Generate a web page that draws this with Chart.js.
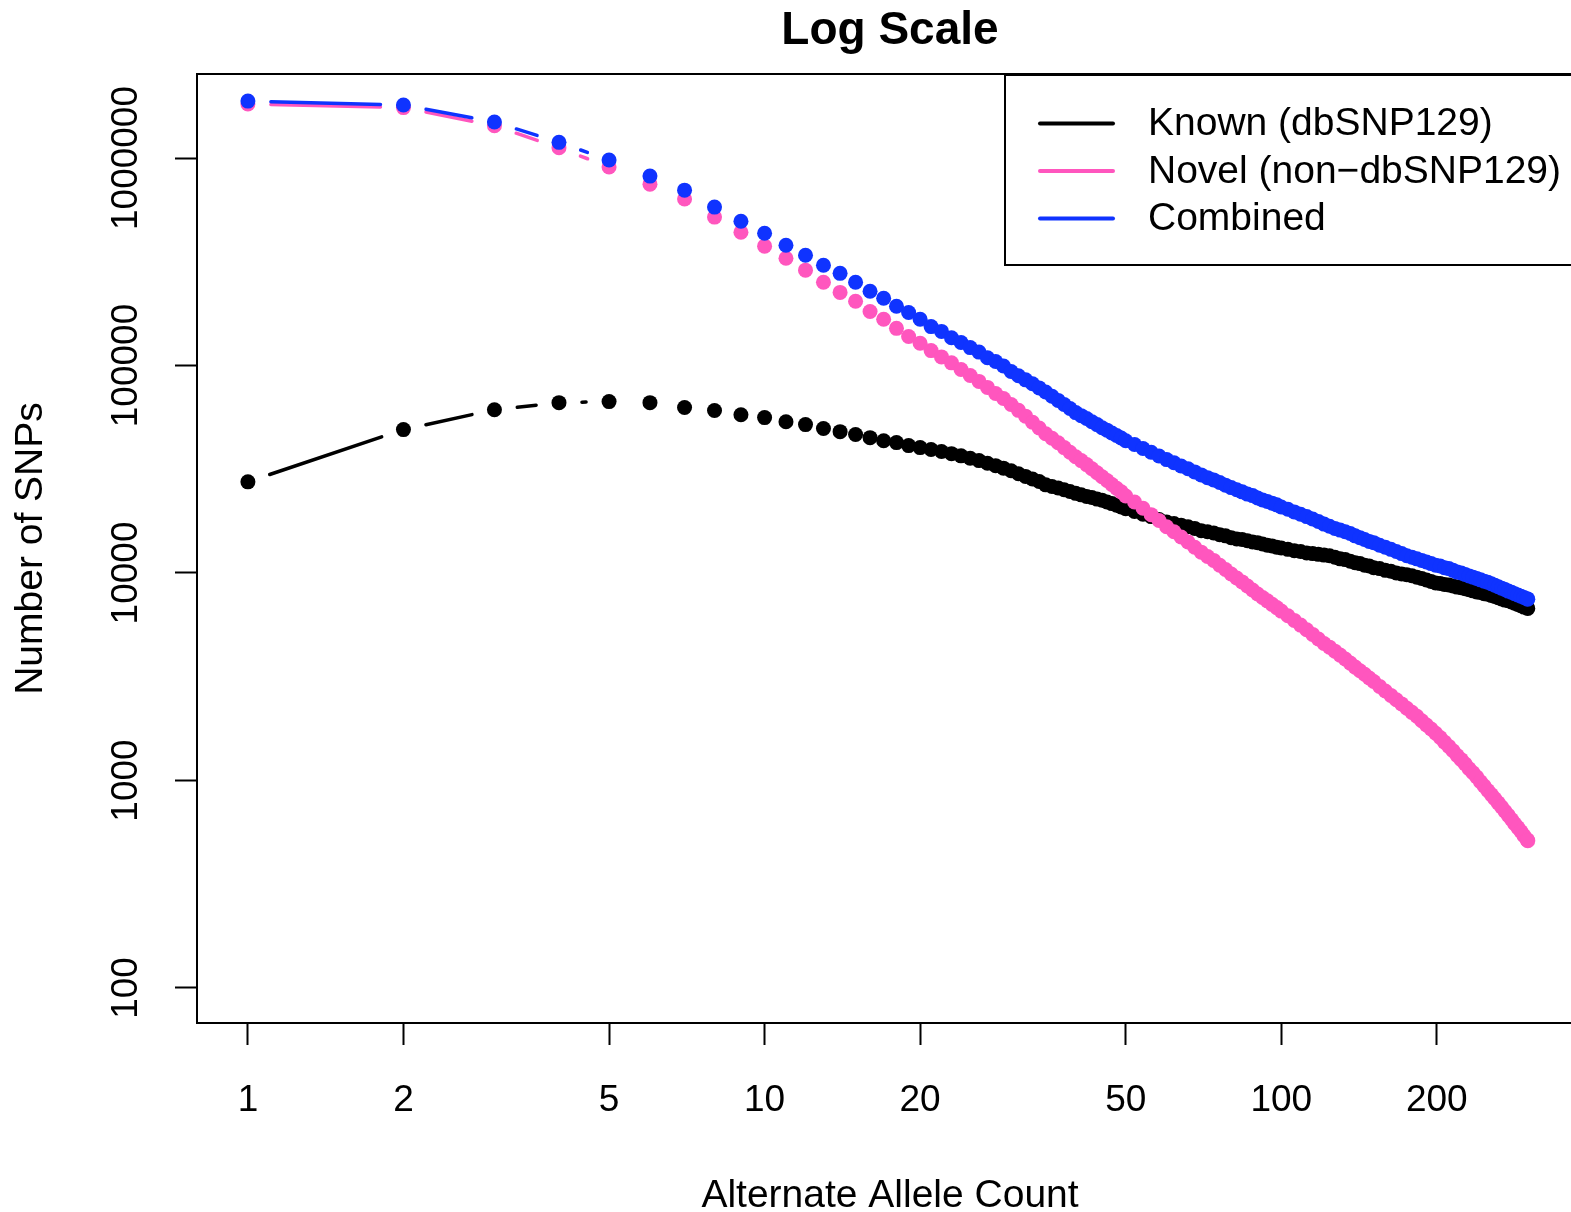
<!DOCTYPE html>
<html>
<head>
<meta charset="utf-8">
<script src="https://cdn.jsdelivr.net/npm/chart.js@4.4.1/dist/chart.umd.min.js"></script>
<style>
  html, body { margin: 0; padding: 0; background: #fff; overflow: hidden; }
  /* the plot box runs a little past the right edge of the picture, as in the original */
  #frame { width: 1571px; height: 1212px; overflow: hidden; }
  canvas { display: block; }
</style>
</head>
<body>
<div id="frame"><canvas id="snps" width="1583" height="1212"></canvas></div>
<script>
// alternate allele count (x) for each plotted point
const counts = [
  1,2,3,4,5,6,7,8,9,10,11,12,13,14,15,16,17,18,19,20,
  21,22,23,24,25,26,27,28,29,30,31,32,33,34,35,36,37,38,39,40,
  41,42,43,44,45,46,47,48,49,50,
  52,54,56,58,60,62,64,66,68,70,72,74,76,78,80,82,84,86,88,90,92,94,96,98,100,
  103,106,109,112,115,118,121,124,127,130,133,136,139,142,145,148,151,
  155,159,163,167,171,175,179,183,187,191,195,199,203,207,211,215,219,223,227,231,
  235,239,243,247,251,255,259,263,267,271,275,279,283,287,291,295,299,300
]

const known = [
  27500,49100,61200,66200,67000,66200,62700,60700,57900,56100,
  53600,51900,49700,48000,46500,44900,43400,42500,41100,40200,
  39400,38500,37600,36700,35700,34800,33800,32900,32000,31100,
  30100,29200,28400,27600,26600,26100,25700,25200,24700,24200,
  23800,23400,23100,22700,22400,22000,21600,21200,20800,20400,
  19800,19200,18700,18100,17600,17300,17000,16700,16400,16000,
  15800,15600,15300,15100,14800,14600,14500,14300,14100,14000,
  13800,13600,13500,13300,13200,
  13000,12800,12700,12500,12400,12300,12200,12100,11900,11700,11600,11400,11200,11100,10900,10800,10600,
  10500,10300,10200,10000,9900,9800,9700,9550,9400,9250,9100,8950,8900,8800,8750,8650,8550,8500,8400,8300,
  8200,8100,8050,7950,7900,7800,7700,7600,7500,7400,7350,7250,7150,7050,6950,6850,6800,6750
]

const novel = [
  1820000,1750000,1430000,1120000,905000,748000,634000,519000,439000,376000,
  329000,288000,252000,225000,204000,182000,167000,151000,138000,128000,
  118000,110000,103000,95700,89500,83800,78400,73300,69300,64900,
  60800,57000,53300,50000,46900,44600,42400,40200,38200,36300,
  34800,33300,31800,30400,29100,27900,26700,25600,24600,23500,
  22000,20500,19100,17900,16700,15800,14900,14100,13300,12600,
  12000,11500,10900,10400,9890,9460,9060,8650,8280,7920,
  7620,7340,7060,6810,6550,
  6220,5910,5610,5330,5060,4810,4570,4390,4200,4020,3850,3680,3520,3380,3250,3120,3000,
  2840,2700,2570,2450,2340,2230,2130,2040,1940,1850,1770,1690,1610,1530,1460,1390,1320,1260,1200,1140,
  1090,1040,986,940,895,855,817,780,745,711,679,649,619,593,568,542,519,513
]

const combined = [
  1880000,1800000,1490000,1190000,978000,818000,700000,580000,496000,434000,
  380000,340000,304000,278000,252000,228000,211000,193000,180000,167000,
  154000,146000,136000,129000,122000,116000,109000,104500,99500,93600,
  89300,85300,81700,78000,74500,71100,67900,64900,62100,59300,
  57300,55500,53600,51900,50100,48800,47300,46000,44700,43400,
  41600,39800,38200,36600,35200,34000,32800,31800,30700,29700,
  28800,28100,27300,26500,25800,25200,24600,24000,23600,23000,
  22500,22100,21700,21300,20800,
  20300,19700,19200,18700,18200,17700,17200,16800,16400,16100,15800,15500,15100,14800,14500,14200,14000,
  13600,13300,13000,12700,12400,12100,11900,11700,11500,11300,11100,10900,10800,10600,10500,10300,10100,10000,9840,9680,
  9550,9400,9270,9120,9020,8870,8730,8590,8450,8320,8180,8070,7940,7830,7730,7620,7520,7480
]

const seriesNames = ['Known (dbSNP129)', 'Novel (non\u2212dbSNP129)', 'Combined']
const seriesColors = ['#000000', '#FF56BE', '#0F33FF']
const xTicks = [1, 2, 5, 10, 20, 50, 100, 200]
const yTicks = [100, 1000, 10000, 100000, 1000000]

const FONT = "'Liberation Sans', Helvetica, Arial, sans-serif"
Chart.defaults.font.family = FONT
Chart.defaults.color = '#000'

// R type="b": segments between points, cut back so they stop short of each dot
const gapLines = {
  id: 'gapLines',
  beforeDatasetsDraw(chart) {
    const ctx = chart.ctx
    const a = chart.chartArea
    const gap = 23
    ctx.save()
    ctx.beginPath()
    ctx.rect(a.left, a.top, a.right - a.left, a.bottom - a.top)
    ctx.clip()
    ctx.lineWidth = 3.5
    ctx.lineCap = 'round'
    chart.data.datasets.forEach((ds, i) => {
      const pts = chart.getDatasetMeta(i).data
      ctx.strokeStyle = ds.backgroundColor
      for (let k = 1; k < pts.length; k++) {
        const p = pts[k - 1], q = pts[k]
        const dx = q.x - p.x, dy = q.y - p.y
        const d = Math.hypot(dx, dy)
        if (d <= 2 * gap) continue
        const ux = dx / d, uy = dy / d
        ctx.beginPath()
        ctx.moveTo(p.x + ux * gap, p.y + uy * gap)
        ctx.lineTo(q.x - ux * gap, q.y - uy * gap)
        ctx.stroke()
      }
    })
    ctx.restore()
  }
}

// plot frame and the boxed legend in the top right corner
const frameLegend = {
  id: 'frameLegend',
  afterDatasetsDraw(chart) {
    const ctx = chart.ctx
    const a = chart.chartArea
    ctx.save()
    ctx.strokeStyle = '#000'
    ctx.lineWidth = 2
    ctx.strokeRect(a.left, a.top, a.right - a.left, a.bottom - a.top)
    ctx.strokeRect(1005, 75, 700, 190)
    ctx.font = '39px ' + FONT
    ctx.textBaseline = 'middle'
    ctx.textAlign = 'left'
    seriesNames.forEach((name, i) => {
      const y = 123.5 + i * 47.5
      ctx.strokeStyle = seriesColors[i]
      ctx.lineWidth = 4
      ctx.lineCap = 'round'
      ctx.beginPath()
      ctx.moveTo(1040, y)
      ctx.lineTo(1113, y)
      ctx.stroke()
      ctx.fillStyle = '#000'
      ctx.fillText(name, 1148, y + 1)
    })
    ctx.restore()
  }
}

const series = [known, novel, combined]

new Chart(document.getElementById('snps'), {
  type: 'scatter',
  data: {
    datasets: series.map((vals, i) => ({
      label: seriesNames[i],
      data: counts.map((c, k) => ({ x: c, y: vals[k] })),
      backgroundColor: seriesColors[i],
      borderColor: seriesColors[i],
      pointRadius: 7.5,
      pointHoverRadius: 7.5,
      pointBorderWidth: 0,
      order: 3 - i,
    })),
  },
  options: {
    responsive: false,
    animation: false,
    devicePixelRatio: 1,
    events: [],
    layout: { autoPadding: false, padding: 0 },
    plugins: {
      legend: { display: false },
      tooltip: { enabled: false },
      title: {
        display: true,
        text: 'Log Scale',
        color: '#000',
        fullSize: false,
        font: { size: 46, weight: 'bold' },
        padding: { top: 4, bottom: 14.8 },
      },
    },
    scales: {
      x: {
        type: 'logarithmic',
        bounds: 'data',
        min: 0.797,
        max: 383.7,
        afterBuildTicks: (s) => { s.ticks = xTicks.map((v) => ({ value: v })) },
        afterFit: (s) => {
          s.height = 189
          s.paddingLeft = 0
          s.paddingRight = 0
        },
        ticks: { font: { size: 37 }, padding: 34, maxRotation: 0, autoSkip: false, callback: (v) => String(v) },
        grid: { drawOnChartArea: false, tickLength: 22, tickWidth: 2, tickColor: '#000' },
        border: { display: false },
        title: { display: true, text: 'Alternate Allele Count', font: { size: 39 }, padding: { top: 0, bottom: -8 } },
      },
      y: {
        type: 'logarithmic',
        bounds: 'data',
        min: 67.8,
        max: 2540000,
        afterBuildTicks: (s) => { s.ticks = yTicks.map((v) => ({ value: v })) },
        afterFit: (s) => {
          s.width = 197
          s.paddingTop = 0
          s.paddingBottom = 0
        },
        ticks: { font: { size: 37 }, minRotation: 90, maxRotation: 90, crossAlign: 'center', padding: -24, autoSkip: false, callback: (v) => String(v) },
        grid: { drawOnChartArea: false, tickLength: 22, tickWidth: 2, tickColor: '#000' },
        border: { display: false },
        title: { display: true, text: 'Number of SNPs', font: { size: 39 }, padding: { top: 8, bottom: 0 } },
      },
    },
  },
  plugins: [gapLines, frameLegend],
})
</script>
</body>
</html>
